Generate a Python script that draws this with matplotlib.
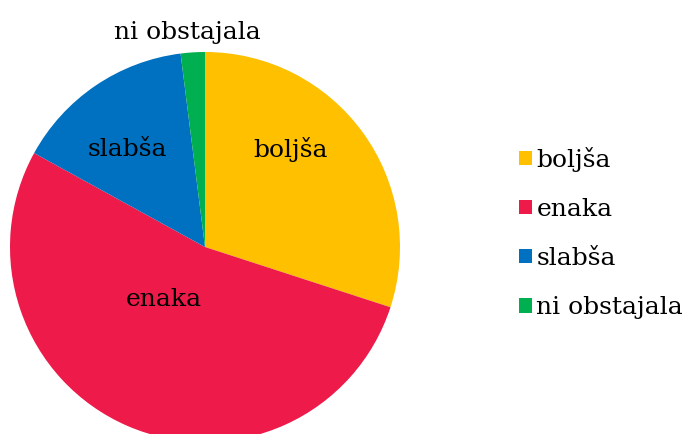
import matplotlib.pyplot as plt

# Dados
categorias = ['boljša', 'enaka', 'slabša', 'ni obstajala']
valores = [30, 53, 15, 2]
cores = ['#FFC000', '#ED1A4A', '#0070C0', '#00B050']

plt.rcParams['font.family'] = ['DejaVu Serif']

fig = plt.figure(figsize=(6.85, 4.34), dpi=100)
ax = fig.add_axes([10 / 685, -8 / 434, 390 / 685, 390 / 434])

wedges, _ = ax.pie(valores, colors=cores, startangle=90, counterclock=False,
                   radius=1, wedgeprops=dict(linewidth=0))
ax.set_xlim(-1, 1)
ax.set_ylim(-1, 1)
ax.set_aspect('equal')

# posições dos rótulos (em coordenadas dos dados)
pos_rotulos = [(0.44, 0.50), (-0.21, -0.27), (-0.40, 0.50), (-0.09, 1.10)]
for nome, (x, y) in zip(categorias, pos_rotulos):
    ax.text(x, y, nome, ha='center', va='center', fontsize=18, clip_on=False)

fig.legend(wedges, categorias, loc='center left', bbox_to_anchor=(519 / 685, 1 - 233 / 434),
           frameon=False, fontsize=18, handlelength=0.5, handleheight=0.5,
           handletextpad=0.2, labelspacing=1.05, borderpad=0, borderaxespad=0)

fig.savefig('out.png', dpi=100)
